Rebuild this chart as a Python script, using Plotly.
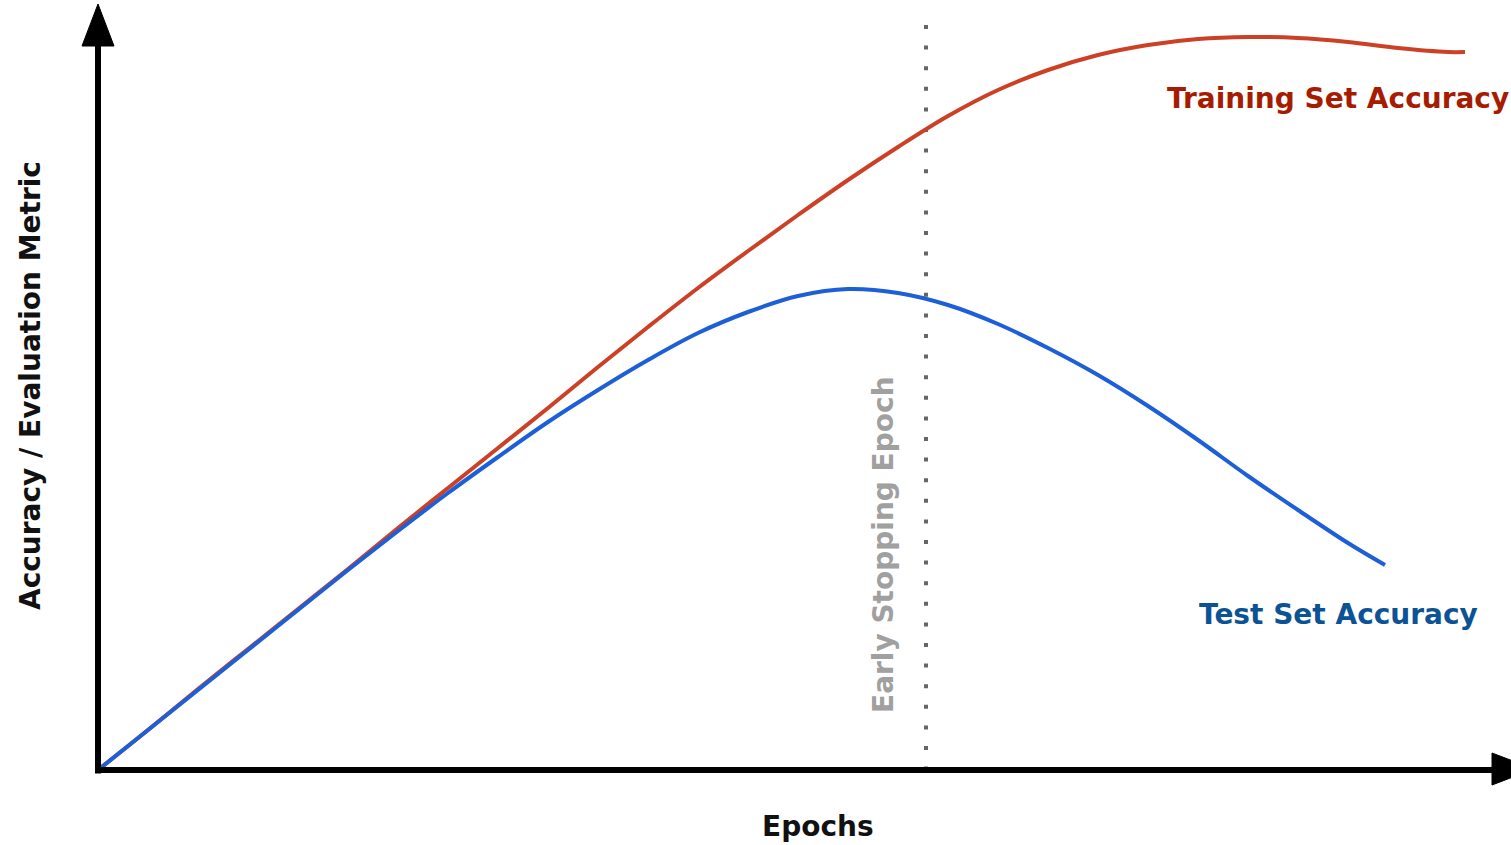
import plotly.graph_objects as go

# ---- data (epochs, metric value) ----
train_epochs = [0, 0.5, 1, 1.5, 2, 2.5, 3, 3.5, 4, 4.5, 5, 5.5, 6, 6.5, 7, 7.5,
                8, 8.5, 9, 9.5, 10, 10.5, 11, 11.5, 12, 12.5, 13, 13.5, 13.67]
train_acc = [0, 0.40, 0.81, 1.21, 1.61, 2.01, 2.42, 2.82, 3.22, 3.62, 4.03, 4.43,
             4.82, 5.19, 5.55, 5.90, 6.23, 6.54, 6.80, 7.00, 7.15, 7.25, 7.31,
             7.33, 7.32, 7.28, 7.22, 7.18, 7.18]

test_epochs = [0, 0.5, 1, 1.5, 2, 2.5, 3, 3.5, 4, 4.5, 5, 5.5, 6, 6.5, 7, 7.5,
               8, 8.5, 9, 9.5, 10, 10.5, 11, 11.5, 12, 12.5, 12.87]
test_acc = [0, 0.40, 0.80, 1.20, 1.60, 2.00, 2.39, 2.77, 3.13, 3.48, 3.80, 4.10,
            4.37, 4.58, 4.74, 4.81, 4.77, 4.65, 4.46, 4.22, 3.95, 3.64, 3.30,
            2.94, 2.60, 2.27, 2.05]

early_stop_epoch = 8.28

x_label = "Epochs"
y_label = "Accuracy / Evaluation Metric"
train_label = "Training Set Accuracy"
test_label = "Test Set Accuracy"
stop_label = "Early Stopping Epoch"

RED = "#cc4125"
BLUE = "#1c5fd6"
RED_TXT = "#a61c00"
BLUE_TXT = "#0b5394"
LABEL_FONT = "DejaVu Sans"
FS = 28

fig = go.Figure()
fig.add_trace(go.Scatter(x=train_epochs, y=train_acc, mode="lines",
                         line=dict(color=RED, width=4, shape="spline", smoothing=1.0),
                         hoverinfo="skip", showlegend=False))
fig.add_trace(go.Scatter(x=test_epochs, y=test_acc, mode="lines",
                         line=dict(color=BLUE, width=4, shape="spline", smoothing=1.0),
                         hoverinfo="skip", showlegend=False))

shapes = [
    # early stopping dotted line
    dict(type="line", xref="x", yref="y", x0=early_stop_epoch, x1=early_stop_epoch,
         y0=7.45, y1=0.02, line=dict(color="#666666", width=4, dash="4px,16.6px"),
         layer="below"),
    # y axis
    dict(type="line", xref="x", yref="y", x0=0, x1=0, y0=-0.035, y1=7.26,
         line=dict(color="black", width=6)),
    dict(type="path", xref="x", yref="y", path="M -0.16,7.24 L 0.16,7.24 L 0,7.66 Z",
         fillcolor="black", line=dict(color="black", width=1)),
    # x axis
    dict(type="line", xref="x", yref="y", x0=-0.03, x1=13.96, y0=0, y1=0,
         line=dict(color="black", width=6)),
    dict(type="path", xref="x", yref="y", path="M 13.94,0.17 L 13.94,-0.15 L 14.36,0.01 Z",
         fillcolor="black", line=dict(color="black", width=1)),
]

annotations = [
    dict(x=12.40, y=6.72, xref="x", yref="y", text=train_label, showarrow=False,
         xanchor="center", yanchor="middle",
         font=dict(family=LABEL_FONT, size=FS, color=RED_TXT, weight="bold")),
    dict(x=12.40, y=1.56, xref="x", yref="y", text=test_label, showarrow=False,
         xanchor="center", yanchor="middle",
         font=dict(family=LABEL_FONT, size=FS, color=BLUE_TXT, weight="bold")),
    dict(x=7.85, y=2.25, xref="x", yref="y", text=stop_label, showarrow=False,
         textangle=-90, xanchor="center", yanchor="middle",
         font=dict(family=LABEL_FONT, size=FS, color="#a0a0a0", weight="bold")),
    dict(x=7.20, y=-0.56, xref="x", yref="y", text=x_label, showarrow=False,
         xanchor="center", yanchor="middle",
         font=dict(family=LABEL_FONT, size=FS, color="#111111", weight="bold")),
    dict(x=-0.68, y=3.84, xref="x", yref="y", text=y_label, showarrow=False,
         textangle=-90, xanchor="center", yanchor="middle",
         font=dict(family="DejaVu Sans", size=FS, color="#111111", weight="bold")),
]

fig.update_layout(
    width=1511, height=845,
    margin=dict(l=0, r=0, t=0, b=0),
    paper_bgcolor="white", plot_bgcolor="white",
    xaxis=dict(range=[-0.98, 14.13], visible=False, fixedrange=True),
    yaxis=dict(range=[-0.75, 7.70], visible=False, fixedrange=True),
    shapes=shapes, annotations=annotations,
    showlegend=False,
)

fig.write_html(
    "out.html",
    config={"displayModeBar": False},
    post_script="document.body.style.margin='0';document.body.style.overflow='hidden';",
)
